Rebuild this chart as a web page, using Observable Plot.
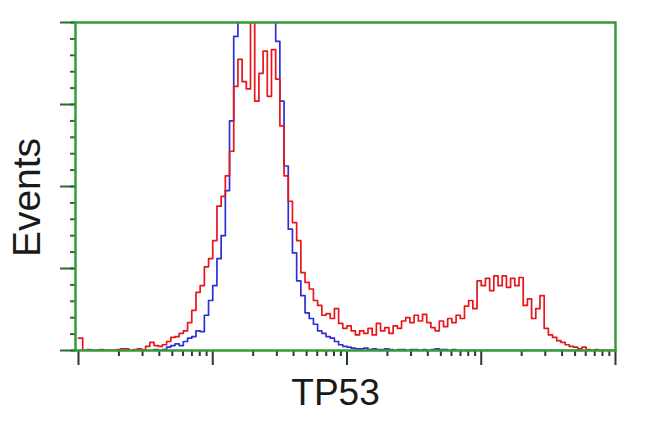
<!DOCTYPE html>
<html><head><meta charset="utf-8">
<script src="https://cdn.jsdelivr.net/npm/d3@7"></script>
<script src="https://cdn.jsdelivr.net/npm/@observablehq/plot@0.6"></script>
<style>html,body{margin:0;padding:0;background:#fff} svg{display:block}</style>
</head><body><div id="chart"></div>
<script>
// Histogram channels: 128 channels over 4 log decades (32 per decade)
const channelsPerDecade = 32;
const redCounts = [
  15,0,1,0,0,1,0,0,0,1, 2,2,0,1,2,1,5,10,6,5,
  7,11,16,17,21,24,34,49,71,79, 102,112,134,176,188,213,243,322,355,328,
  319,400,304,338,365,310,367,331,274,213, 182,156,134,95,83,75,61,55,43,45,
  39,51,33,27,30,24,19,24,21,27, 19,33,24,28,21,30,27,36,40,34,
  43,36,44,34,28,24,36,29,39,34, 43,39,54,61,51,85,79,88,73,91,
  79,91,77,88,79,89,55,63,39,51, 67,27,19,16,12,10,7,5,4,2,
  4,1,0,1,0,0,0,0
];
const blueCounts = [
  0,0,0,0,0,0,0,0,0,0, 0,0,0,0,0,0,0,0,1,0,
  1,4,6,8,6,11,15,17,24,23, 43,61,79,112,140,195,280,383,440,480,
  500,520,510,500,480,460,430,377,304,225, 148,119,85,67,46,39,32,24,21,17,
  15,11,7,5,4,3,2,2,3,1, 2,1,1,2,1,0,1,1,0,1,
  1,0,1,0,1,2,1,1,0,1, 0,0,0,0,0,0,0,0,0,0,
  0,0,0,0,0,0,0,0,0,0, 0,0,0,0,0,0,0,0,0,0,
  0,0,0,0,0,0,0,0
];
const xLabel = "TP53";
const yLabel = "Events";
const xMajorTicks = [1, 10, 100, 1000, 10000];
const yMajorTicks = [0, 100, 200, 300, 400];
const yMinorStep = 20;

function toSeries(counts) {
  const pts = counts.map((v, i) => ({x: 10 ** (i / channelsPerDecade), y: v}));
  pts.push({x: 10 ** (counts.length / channelsPerDecade), y: counts[counts.length - 1]});
  return pts;
}
const red = toSeries(redCounts);
const blue = toSeries(blueCounts);
const xMinorTicks = xMajorTicks.slice(0, -1).flatMap(d => d3.range(2, 10).map(k => k * d));
const yMinorTicks = d3.range(0, 401, yMinorStep);

const green = "#349a3a";
const tickGreen = "#2b6b2e";
const tickDark = "#283d28";
const noLabel = () => "";

const chart = Plot.plot({
  width: 650, height: 432,
  marginLeft: 75, marginRight: 35, marginTop: 22, marginBottom: 82,
  x: {type: "log", domain: [1, 1e4], insetLeft: 3, label: null},
  y: {domain: [0, 400], label: null},
  style: {fontFamily: "'Liberation Sans', Arial, sans-serif", background: "white"},
  marks: [
    Plot.line(blue, {x: "x", y: "y", curve: "step-after", stroke: "#2e2ed8", strokeWidth: 1.7, clip: true}),
    Plot.line(red, {x: "x", y: "y", curve: "step-after", stroke: "#e8161c", strokeWidth: 1.7, clip: true}),
    Plot.axisY({ticks: yMinorTicks, tickSize: 5, tickFormat: noLabel, stroke: tickGreen, strokeWidth: 2, label: null}),
    Plot.axisY({ticks: yMajorTicks, tickSize: 15, tickFormat: noLabel, stroke: tickGreen, strokeWidth: 2, label: null}),
    Plot.axisX({ticks: xMinorTicks, tickSize: 6, tickFormat: noLabel, stroke: tickDark, strokeWidth: 2, label: null}),
    Plot.axisX({ticks: xMajorTicks, tickSize: 15, tickFormat: noLabel, stroke: tickDark, strokeWidth: 2, label: null}),
    Plot.frame({stroke: green, strokeWidth: 2.5}),
    Plot.text([xLabel], {text: d => d, frameAnchor: "bottom", textAnchor: "middle", lineAnchor: "middle", dx: -10, dy: 43, fontSize: 37, fill: "#1a1a1a"}),
    Plot.text([yLabel], {text: d => d, frameAnchor: "left", textAnchor: "middle", lineAnchor: "middle", rotate: -90, dx: -48, dy: 11, fontSize: 39, fill: "#1a1a1a"})
  ]
});
document.getElementById("chart").append(chart);
</script>
</body></html>
